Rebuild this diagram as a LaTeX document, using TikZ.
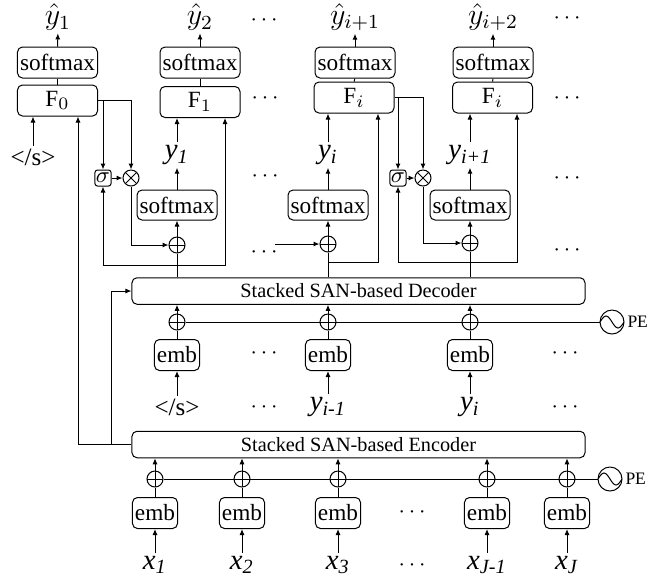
\documentclass[tikz,border=0pt]{standalone}
\usepackage{fontspec}
\setmainfont{Liberation Serif}
\usepackage{tikz}
\usetikzlibrary{shapes,arrows.meta,positioning}

\begin{document}
\begin{tikzpicture}[x=0.4pt,y=-0.4pt,>={Latex[length=2.4pt,width=2pt]},
  blk/.style={draw,rounded corners=2pt,inner sep=0pt,minimum width=32pt,minimum height=12.4pt,font=\fontsize{9.3}{10}\selectfont},
  embbox/.style={draw,rounded corners=2pt,inner sep=1pt,minimum height=12.4pt,font=\fontsize{9.3}{10}\selectfont},
  stack/.style={draw,rounded corners=2pt,inner sep=0pt,minimum width=181.2pt,minimum height=10.6pt,font=\fontsize{8.1}{9}\selectfont},
  addop/.style={circle,draw,inner sep=0pt,minimum size=6.4pt,
    path picture={\draw (path picture bounding box.north) -- (path picture bounding box.south)
      (path picture bounding box.east) -- (path picture bounding box.west);}},
  mulop/.style={circle,draw,inner sep=0pt,minimum size=6.4pt,
    path picture={\draw (path picture bounding box.north west) -- (path picture bounding box.south east)
      (path picture bounding box.north east) -- (path picture bounding box.south west);}},
  gate/.style={draw,rounded corners=1pt,inner sep=0.4pt,minimum width=6pt,minimum height=6.4pt,font=\fontsize{9}{9}\selectfont},
  pesrc/.style={circle,draw,inner sep=0pt,minimum size=9.6pt,
    path picture={\draw ([xshift=-4.8pt]path picture bounding box.center) sin ++(2.4pt,2.4pt) cos ++(2.4pt,-2.4pt) sin ++(2.4pt,-2.4pt) cos ++(2.4pt,2.4pt);}},
  lbl/.style={inner sep=1pt,font=\fontsize{10}{11}\selectfont},
  hatlbl/.style={inner sep=1pt,font=\fontsize{12}{13}\selectfont},
  wordlbl/.style={inner sep=1pt,font=\fontsize{11.5}{12}\selectfont},
  pelbl/.style={inner sep=0pt,font=\fontsize{7}{8}\selectfont},
  dots/.style={inner sep=0pt,font=\fontsize{9}{10}\selectfont}]
\useasboundingbox (0,0) rectangle (660,583);

% output side
\node[blk] (sm1) at (57.5,62.5) {softmax};
\node[blk] (f0) at (57.5,100.5) {F$_0$};
\node[blk] (sm2) at (200,62.5) {softmax};
\node[blk] (f1) at (200,102) {F$_1$};
\node[blk] (sm3) at (355,62.5) {softmax};
\node[blk] (f2) at (354,97.5) {F$_i$};
\node[blk] (sm4) at (493,62.5) {softmax};
\node[blk] (f3) at (492.5,97.5) {F$_i$};
\node[hatlbl] (yh1) at (58,17) {$\hat{y}_1$};
\node[hatlbl] (yh2) at (200,17) {$\hat{y}_2$};
\node[hatlbl] (yh3) at (355,17) {$\hat{y}_{i+1}$};
\node[hatlbl] (yh4) at (493,17) {$\hat{y}_{i+2}$};
\foreach \s/\f/\y in {sm1/f0/yh1,sm2/f1/yh2,sm3/f2/yh3,sm4/f3/yh4}{
  \draw (\s) -- (\f);
  \draw[->] (\s) -- (\y);
}

% gates and predicted words
\node[gate] (sg1) at (103,178) {$\sigma$};
\node[mulop] (mul1) at (131,178) {};
\node[addop] (plus1) at (177,245) {};
\node[blk,minimum height=12pt] (msm1) at (177,205) {softmax};
\node[wordlbl] (yl1) at (177,155) {\textit{y}\textsubscript{\textit{1}}};
\node[addop] (plus2) at (328,244) {};
\node[blk,minimum height=12pt] (msm2) at (328,205) {softmax};
\node[wordlbl] (yl2) at (328,155) {\textit{y}\textsubscript{\textit{i}}};
\node[gate] (sg2) at (398,178) {$\sigma$};
\node[mulop] (mul2) at (423,178) {};
\node[addop] (plus3) at (470,243) {};
\node[blk,minimum height=12pt] (msm3) at (470,205) {softmax};
\node[wordlbl] (yl3) at (470,155) {\textit{y}\textsubscript{\textit{i+1}}};
\node[lbl] (eos0) at (33,157) {</s>};
\coordinate (in2) at (275,244);

% decoder
\node[stack] (dec) at (358.5,291) {Stacked SAN-based Decoder};
\node[addop] (dp1) at (177,322) {};
\node[addop] (dp2) at (328,322) {};
\node[addop] (dp3) at (470,322) {};
\node[pesrc] (pe1) at (612,322) {};
\node[pelbl,right=1pt of pe1] (pet1) {PE};
\node[embbox] (de1) at (177,355) {emb};
\node[embbox] (de2) at (328,355) {emb};
\node[embbox] (de3) at (470,355) {emb};
\node[lbl] (dl1) at (177,407) {</s>};
\node[wordlbl] (dl2) at (328,407) {\textit{y}\textsubscript{\textit{i-1}}};
\node[wordlbl] (dl3) at (470,407) {\textit{y}\textsubscript{\textit{i}}};

% encoder
\node[stack] (enc) at (358.5,444.5) {Stacked SAN-based Encoder};
\node[addop] (ep1) at (155,479) {};
\node[addop] (ep2) at (242,479) {};
\node[addop] (ep3) at (338,479) {};
\node[addop] (ep4) at (487,479) {};
\node[addop] (ep5) at (567,479) {};
\node[pesrc] (pe2) at (610,479) {};
\node[pelbl,right=1pt of pe2] (pet2) {PE};
\node[embbox] (ee1) at (155,513) {emb};
\node[embbox] (ee2) at (242,513) {emb};
\node[embbox] (ee3) at (338,513) {emb};
\node[embbox] (ee4) at (487,513) {emb};
\node[embbox] (ee5) at (567,513) {emb};
\node[wordlbl] (xl1) at (155,565) {\textit{x}\textsubscript{\textit{1}}};
\node[wordlbl] (xl2) at (242,565) {\textit{x}\textsubscript{\textit{2}}};
\node[wordlbl] (xl3) at (338,565) {\textit{x}\textsubscript{\textit{3}}};
\node[wordlbl] (xl4) at (487,565) {\textit{x}\textsubscript{\textit{J-1}}};
\node[wordlbl] (xl5) at (567,565) {\textit{x}\textsubscript{\textit{J}}};

% dots
\foreach \p in {(264,20),(567,18),(265,98),(567,98),(265,176),(567,178),(264,252),(567,250),
  (264,353),(565,353),(264,407),(565,407),(412,512),(412,565)}
  \node[dots] at \p {$\cdots$};

% encoder side
\foreach \i in {1,...,5}{
  \draw[->] (xl\i) -- (ee\i);
  \draw (ee\i) -- (ep\i);
  \draw[->] (ep\i) -- (ep\i |- enc.south);
}
\draw (ep1) -- (pe2);
\draw[->] (enc.west) -| ([xshift=8.2pt]f0.south);
\draw[->] ([xshift=-8pt]enc.west) |- (dec.west);

% decoder side
\foreach \i in {1,2,3}{
  \draw[->] (dl\i) -- (de\i);
  \draw (de\i) -- (dp\i);
  \draw[->] (dp\i) -- (dp\i |- dec.south);
}
\draw (dp1) -- (pe1);
\draw (dec.north -| plus1) -- (plus1);
\draw (dec.north -| plus2) -- (plus2);
\draw (dec.north -| plus3) -- (plus3);
\coordinate (j1) at (177,265);
\coordinate (j2) at (328,262);
\coordinate (j3) at (470,262);
\draw[->] (j1) -| (sg1);
\draw[->] (j1) -| ([xshift=10pt]f1.south);
\draw[->] (j2) -| ([xshift=9.6pt]f2.south);
\draw[->] (j3) -| (sg2);
\draw[->] (j3) -| ([xshift=9.8pt]f3.south);

% gated connections
\draw[->] (eos0) -- (eos0 |- f0.south);
\draw[->] (f0.east) -| (mul1);
\draw[->] (f0.east -| sg1) -- (sg1);
\draw[->] (sg1) -- (mul1);
\draw[->] (mul1) |- (plus1);
\draw[->] (f2.east) -| (mul2);
\draw[->] (f2.east -| sg2) -- (sg2);
\draw[->] (sg2) -- (mul2);
\draw[->] (mul2) |- (plus3);
\draw[->] (in2) -- (plus2);
\foreach \i/\f in {1/f1,2/f2,3/f3}{
  \draw[->] (plus\i) -- (msm\i);
  \draw[->] (msm\i) -- (yl\i);
  \draw[->] (yl\i) -- (yl\i |- \f.south);
}
\end{tikzpicture}
\end{document}
